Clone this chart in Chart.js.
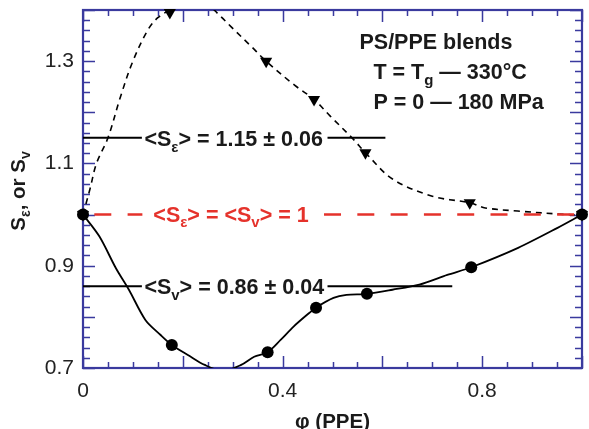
<!DOCTYPE html>
<html><head><meta charset="utf-8">
<script src="https://cdn.jsdelivr.net/npm/chart.js@4/dist/chart.umd.min.js"></script>
<style>html,body{margin:0;padding:0;background:#fff}</style>
</head><body>
<canvas id="c" width="589" height="429"></canvas>
<script>
// ---- data ----
const xTickLabels = [0, 0.4, 0.8];
const yTickLabels = [0.7, 0.9, 1.1, 1.3];

// S_epsilon (triangles) measured points
const sePhi = [0, 0.174, 0.367, 0.463, 0.566, 0.775, 1.0];
const seVal = [1.0, 1.395, 1.30, 1.225, 1.121, 1.023, 1.0];
// S_epsilon guide curve (dashed)
const seCurvePhi = [0, 0.014, 0.027, 0.05, 0.075, 0.10, 0.13, 0.15, 0.174, 0.21, 0.25, 0.271, 0.297, 0.337, 0.367, 0.424, 0.463, 0.495, 0.542, 0.566, 0.621, 0.70, 0.775, 0.806, 0.871, 0.97, 1.0];
const seCurveVal = [1.0, 1.05, 1.10, 1.15, 1.23, 1.30, 1.361, 1.385, 1.40, 1.42, 1.41, 1.392, 1.367, 1.329, 1.30, 1.253, 1.225, 1.193, 1.147, 1.121, 1.069, 1.036, 1.023, 1.013, 1.007, 1.0, 1.0];

// S_v (circles) measured points
const svPhi = [0, 0.178, 0.37, 0.467, 0.569, 0.778, 1.0];
const svVal = [1.0, 0.745, 0.731, 0.818, 0.845, 0.897, 1.0];
// S_v guide curve (solid)
const svCurvePhi = [0, 0.033, 0.066, 0.092, 0.125, 0.155, 0.178, 0.211, 0.244, 0.28, 0.317, 0.343, 0.37, 0.396, 0.422, 0.449, 0.467, 0.502, 0.528, 0.569, 0.62, 0.674, 0.73, 0.778, 0.872, 0.951, 1.0];
const svCurveVal = [1.0, 0.957, 0.895, 0.853, 0.794, 0.765, 0.745, 0.725, 0.706, 0.694, 0.706, 0.722, 0.731, 0.755, 0.781, 0.804, 0.818, 0.837, 0.843, 0.845, 0.853, 0.863, 0.882, 0.897, 0.935, 0.974, 1.0];

// averages
const seMean = 1.15, seErr = 0.06;
const svMean = 0.86, svErr = 0.04;
const unity = 1;
// extents (phi) of the drawn mean lines, broken where the label sits
const seMeanExtent = [[0, 0.118], [0.49, 0.606]];
const svMeanExtent = [[0, 0.118], [0.49, 0.74]];
const unityExtent = [[0, 0.119], [0.483, 1.0]];

// ---- styling ----
const BLUE = '#3a3a9e', RED = '#e5322b', INK = '#1a1a1a';
const FONT = '"Liberation Sans", Arial, Helvetica, sans-serif';

const pts = (xs, ys) => xs.map((x, i) => ({x, y: ys[i]}));
const seg = (ext, v) => ext.map(e => [{x: e[0], y: v}, {x: e[1], y: v}]);

const datasets = [];
seg(unityExtent, unity).forEach((d, i) => datasets.push({
  data: d, showLine: true, borderColor: RED, borderWidth: 2.5, pointRadius: 0,
  borderDash: [17, 16.3], borderDashOffset: i === 0 ? 22 : 0
}));
datasets.push({data: pts(seCurvePhi, seCurveVal), showLine: true, borderColor: '#000', borderWidth: 1.6,
  borderDash: [6, 5], pointRadius: 0, tension: 0.35});
datasets.push({data: pts(svCurvePhi, svCurveVal), showLine: true, borderColor: '#000', borderWidth: 1.8,
  pointRadius: 0, tension: 0.3});
seg(seMeanExtent, seMean).forEach(d => datasets.push({data: d, showLine: true, borderColor: '#000', borderWidth: 2, pointRadius: 0}));
seg(svMeanExtent, svMean).forEach(d => datasets.push({data: d, showLine: true, borderColor: '#000', borderWidth: 2, pointRadius: 0}));
datasets.push({data: pts(sePhi, seVal), showLine: false, pointStyle: 'triangle', rotation: 180,
  pointRadius: 7, backgroundColor: '#000', borderColor: '#000', borderWidth: 0, clip: false});
datasets.push({data: pts(svPhi, svVal), showLine: false, pointStyle: 'circle',
  pointRadius: 6, backgroundColor: '#000', borderColor: '#000', borderWidth: 0, clip: false});

function rich(ctx, x, y, runs, size, color, align, bold = true) {
  const sub = Math.round(size * 0.68);
  let w = 0;
  runs.forEach(r => {
    ctx.font = `${bold ? 'bold ' : ''}${r.sub ? sub : size}px ${FONT}`;
    r.w = ctx.measureText(r.t).width; w += r.w;
  });
  let cx = align === 'center' ? x - w / 2 : x;
  ctx.fillStyle = color; ctx.textBaseline = 'alphabetic'; ctx.textAlign = 'left';
  runs.forEach(r => {
    ctx.font = `${bold ? 'bold ' : ''}${r.sub ? sub : size}px ${FONT}`;
    ctx.fillText(r.t, cx, y + (r.sub ? size * 0.26 : 0));
    cx += r.w;
  });
}

const TS = 21.5; // annotation font size

const frame = {
  id: 'frame',
  beforeDatasetsDraw(chart) {
    const {ctx, chartArea: a, scales: {x, y}} = chart;
    ctx.save();
    ctx.strokeStyle = BLUE;
    ctx.lineWidth = 1.5;
    ctx.beginPath();
    for (let i = 0; i <= 20; i++) {
      const px = Math.round(x.getPixelForValue(i * 0.05)) + 0.5;
      const L = (i % 4 === 0) ? 12 : 6;
      ctx.moveTo(px, a.bottom); ctx.lineTo(px, a.bottom - L);
      ctx.moveTo(px, a.top); ctx.lineTo(px, a.top + L);
    }
    for (let i = 0; i <= 35; i++) {
      const py = Math.round(y.getPixelForValue(0.7 + i * 0.02)) + 0.5;
      const L = (i % 5 === 0) ? 12 : 7;
      ctx.moveTo(a.left, py); ctx.lineTo(a.left + L, py);
      ctx.moveTo(a.right, py); ctx.lineTo(a.right - L, py);
    }
    ctx.stroke();
    ctx.lineWidth = 2.2;
    ctx.strokeRect(a.left, a.top, a.right - a.left, a.bottom - a.top);
    ctx.restore();
  },
  afterDatasetsDraw(chart) {
    const {ctx, chartArea: a, scales: {x, y}} = chart;
    ctx.save();
    // mean labels
    rich(ctx, x.getPixelForValue(0.123), y.getPixelForValue(seMean) + 8.5,
      [{t: '<S'}, {t: 'ε', sub: true}, {t: '> = ' + seMean.toFixed(2) + ' ± ' + seErr.toFixed(2)}], TS, INK);
    rich(ctx, x.getPixelForValue(0.123), y.getPixelForValue(svMean) + 8,
      [{t: '<S'}, {t: 'v', sub: true}, {t: '> = ' + svMean.toFixed(2) + ' ± ' + svErr.toFixed(2)}], TS, INK);
    rich(ctx, x.getPixelForValue(0.141), y.getPixelForValue(unity) + 7,
      [{t: '<S'}, {t: 'ε', sub: true}, {t: '> = <S'}, {t: 'v', sub: true}, {t: '> = ' + unity}], TS, RED);
    // inset
    rich(ctx, x.getPixelForValue(0.554), y.getPixelForValue(1.3235), [{t: 'PS/PPE blends'}], TS, INK);
    rich(ctx, x.getPixelForValue(0.582), y.getPixelForValue(1.2647),
      [{t: 'T = T'}, {t: 'g', sub: true}, {t: ' — 330°C'}], TS, INK);
    rich(ctx, x.getPixelForValue(0.582), y.getPixelForValue(1.2059), [{t: 'P = 0 — 180 MPa'}], TS, INK);
    // axis titles
    rich(ctx, (a.left + a.right) / 2, 428, [{t: 'φ (PPE)'}], 20.5, INK, 'center');
    ctx.translate(25, (a.top + a.bottom) / 2 + 2);
    ctx.rotate(-Math.PI / 2);
    rich(ctx, 0, 0, [{t: 'S'}, {t: 'ε', sub: true}, {t: ', or S'}, {t: 'v', sub: true}], 20.5, INK, 'center');
    ctx.restore();
  }
};

const noPad = s => { s.paddingTop = 0; s.paddingBottom = 0; s.paddingLeft = 0; s.paddingRight = 0; };

new Chart(document.getElementById('c'), {
  type: 'scatter',
  data: {datasets},
  options: {
    responsive: false, animation: false, devicePixelRatio: 1,
    layout: {padding: {left: 0, top: 10, right: 1, bottom: 0}},
    plugins: {legend: {display: false}, tooltip: {enabled: false}},
    scales: {
      x: {
        type: 'linear', min: 0, max: 1,
        afterBuildTicks: s => { s.ticks = xTickLabels.map(v => ({value: v})); },
        afterFit: s => { s.height = 61; noPad(s); },
        grid: {display: false, drawTicks: false}, border: {display: false},
        ticks: {padding: 11, color: '#222', font: {family: FONT, size: 21}, maxRotation: 0,
          callback: v => String(v)}
      },
      y: {
        type: 'linear', min: 0.7, max: 1.4,
        afterBuildTicks: s => { s.ticks = yTickLabels.map(v => ({value: v})); },
        afterFit: s => { s.width = 83; noPad(s); },
        grid: {display: false, drawTicks: false}, border: {display: false},
        ticks: {padding: 9, color: '#222', font: {family: FONT, size: 21},
          callback: v => v.toFixed(1)}
      }
    }
  },
  plugins: [frame]
});
</script>
</body></html>
